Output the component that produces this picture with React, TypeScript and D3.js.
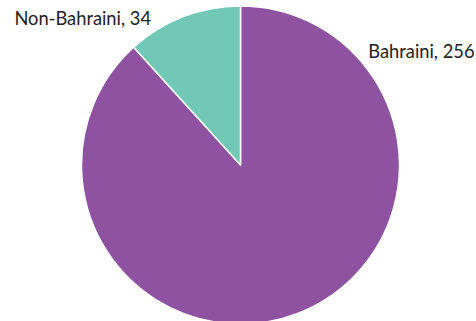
import React from "react";
import * as d3 from "d3";

const categories = ["Bahraini", "Non-Bahraini"];
const values = [256, 34];
const colors = ["#8E52A0", "#71C8B7"];

const W = 476;
const H = 321;
const cx = 240.5;
const cy = 165;
const R = 159;

export default function App() {
  const pie = d3.pie<number>().sort(null).value((d) => d);
  const arcs = pie(values);
  const arcGen = d3.arc<d3.PieArcDatum<number>>().innerRadius(0).outerRadius(R);
  const labelPos = [
    { x: cx + 234, y: cy - 107, anchor: "end" },
    { x: cx - 89.5, y: cy - 140, anchor: "end" },
  ];
  return (
    <svg
      width={W}
      height={H}
      style={{ position: "absolute", left: 0, top: 0, display: "block" }}
    >
      <g transform={`translate(${cx},${cy})`}>
        {arcs.map((a, i) => (
          <path
            key={categories[i]}
            d={arcGen(a) || ""}
            fill={colors[i]}
            stroke="#ffffff"
            strokeWidth={1.5}
            strokeLinejoin="round"
          />
        ))}
      </g>
      {arcs.map((a, i) => (
        <text
          key={"l" + i}
          x={labelPos[i].x}
          y={labelPos[i].y}
          textAnchor={labelPos[i].anchor}
          fontFamily="Lato, 'Noto Sans', sans-serif"
          fontSize={18.3}
          fill="#222222"
        >
          {`${categories[i]}, ${values[i]}`}
        </text>
      ))}
    </svg>
  );
}
